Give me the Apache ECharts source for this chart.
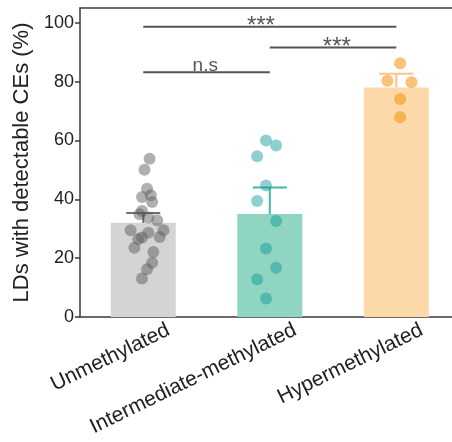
<!DOCTYPE html>
<html>
<head>
<meta charset="utf-8">
<script src="https://cdn.jsdelivr.net/npm/echarts@6/dist/echarts.min.js"></script>
<style>
  html, body { margin: 0; padding: 0; background: #fff; }
  #chart { width: 452px; height: 442px; }
</style>
</head>
<body>
<div id="chart"></div>
<script>
// data
const categories = ['Unmethylated', 'Intermediate-methylated', 'Hypermethylated'];
const means = [32, 35, 78];
const errTop = [35.3, 44, 82.7];
const yTicks = [0, 20, 40, 60, 80, 100];

// [jitter, value] per LD sample
const unmethylatedPts = [
  [0.05, 53.8], [0.01, 50.0], [0.03, 43.6], [-0.01, 40.8], [0.06, 41.4],
  [0.07, 39.1], [-0.01, 36.0], [-0.03, 34.9], [0.04, 33.8], [0.11, 32.9],
  [-0.10, 29.5], [0.16, 29.5], [0.04, 28.6], [-0.01, 27.0], [-0.04, 26.4],
  [0.13, 27.2], [-0.07, 23.5], [0.08, 22.1], [0.07, 18.4], [0.03, 16.2],
  [-0.01, 13.1]
];
const intermediatePts = [
  [-0.03, 60.0], [0.05, 58.3], [-0.10, 54.6], [-0.03, 44.7], [-0.10, 39.4],
  [0.05, 32.6], [-0.03, 23.3], [0.05, 16.7], [-0.10, 12.8], [-0.03, 6.3]
];
const hyperPts = [
  [0.03, 86.2], [-0.07, 80.3], [0.12, 79.8], [0.03, 74.1], [0.03, 67.9]
];

// significance brackets
const sigFrom = [1, 2, 1];
const sigTo = [3, 3, 2];
const sigY = [98.6, 91.6, 83.2];
const sigText = ['***', '***', 'n.s'];
const sigTextX = [1.93, 2.53, 1.49];

const FONT = "'Liberation Sans', Arial, sans-serif";
const barColors = ['#d4d4d4', '#8fd5c1', '#fdd9a9'];
const dotColors = ['rgba(90,90,90,0.6)', 'rgba(20,155,150,0.6)', 'rgba(247,150,20,0.72)'];
const errColors = ['#6e6e6e', '#45b5a5', '#fcc585'];

const xMin = 0.5, xMax = 3.44, labelShift = 0.2;

let chart = echarts.init(document.getElementById('chart'));

function toPts(list, i) {
  return list.map(p => [i + 1 + p[0], p[1]]);
}

let sigSeries = [];
for (let k = 0; k < sigText.length; k++) {
  sigSeries.push({
    type: 'line',
    xAxisIndex: 0,
    data: [[sigFrom[k], sigY[k]], [sigTo[k], sigY[k]]],
    symbol: 'none',
    lineStyle: { color: '#555', width: 2 },
    silent: true,
    z: 3
  });
}
sigSeries.push({
  type: 'scatter',
  xAxisIndex: 0,
  symbolSize: 0,
  data: sigText.map((t, k) => ({
    value: [sigTextX[k], sigY[k]],
    name: t,
    label: t === '***' ? { fontSize: 24, distance: -12 } : { fontSize: 19, distance: -3 }
  })),
  label: {
    show: true,
    position: 'top',
    formatter: p => p.name,
    fontFamily: FONT,
    color: '#2a2a2a'
  },
  silent: true,
  z: 4
});

chart.setOption({
  animation: false,
  grid: { left: 80, right: 0, top: 8, bottom: 125 },
  xAxis: [
    {
      type: 'value', min: xMin, max: xMax, position: 'bottom',
      axisLine: { show: true, lineStyle: { color: '#3a3a3a', width: 1.5 } },
      axisTick: { show: false }, axisLabel: { show: false }, splitLine: { show: false }
    },
    {
      type: 'value', min: xMin, max: xMax, position: 'top',
      axisLine: { show: true, lineStyle: { color: '#3a3a3a', width: 1.5 } },
      axisTick: { show: false }, axisLabel: { show: false }, splitLine: { show: false }
    },
    {
      type: 'value', min: xMin - labelShift, max: xMax - labelShift, position: 'bottom',
      axisLine: { show: false }, axisTick: { show: false }, splitLine: { show: false },
      axisLabel: {
        customValues: [1, 2, 3],
        formatter: v => categories[Math.round(v) - 1],
        rotate: 26,
        margin: 12,
        fontFamily: FONT,
        fontSize: 21,
        color: '#222'
      }
    }
  ],
  yAxis: {
    type: 'value', min: 0, max: 105,
    name: 'LDs with detectable CEs (%)',
    nameLocation: 'middle',
    nameGap: 42,
    nameTextStyle: { fontFamily: FONT, fontSize: 22, color: '#222' },
    axisLine: { show: true, lineStyle: { color: '#3a3a3a', width: 1.5 } },
    axisTick: { show: true, customValues: yTicks, length: 5, lineStyle: { color: '#3a3a3a', width: 1.5 } },
    axisLabel: { customValues: yTicks, margin: 6, fontFamily: FONT, fontSize: 18, color: '#222' },
    splitLine: { show: false }
  },
  series: [
    {
      type: 'bar',
      xAxisIndex: 0,
      barWidth: 65,
      data: means.map((m, i) => ({ value: [i + 1, m], itemStyle: { color: barColors[i] } })),
      silent: true,
      z: 1
    },
    {
      type: 'custom',
      xAxisIndex: 0,
      data: means.map((m, i) => [i + 1, m, errTop[i]]),
      renderItem: function (params, api) {
        let p0 = api.coord([api.value(0), api.value(1)]);
        let p1 = api.coord([api.value(0), api.value(2)]);
        let c = errColors[params.dataIndex];
        return {
          type: 'group',
          children: [
            { type: 'line', shape: { x1: p0[0], y1: p0[1], x2: p1[0], y2: p1[1] }, style: { stroke: c, lineWidth: 2 } },
            { type: 'line', shape: { x1: p1[0] - 17, y1: p1[1], x2: p1[0] + 17, y2: p1[1] }, style: { stroke: c, lineWidth: 2 } }
          ]
        };
      },
      silent: true,
      z: 2
    },
    {
      type: 'scatter', xAxisIndex: 0, symbolSize: 12,
      data: toPts(unmethylatedPts, 0),
      itemStyle: { color: dotColors[0] }, silent: true, z: 5
    },
    {
      type: 'scatter', xAxisIndex: 0, symbolSize: 12,
      data: toPts(intermediatePts, 1),
      itemStyle: { color: dotColors[1] }, silent: true, z: 5
    },
    {
      type: 'scatter', xAxisIndex: 0, symbolSize: 12,
      data: toPts(hyperPts, 2),
      itemStyle: { color: dotColors[2] }, silent: true, z: 5
    }
  ].concat(sigSeries)
});

window.addEventListener('resize', () => {
  chart.resize();
});
</script>
</body>
</html>
